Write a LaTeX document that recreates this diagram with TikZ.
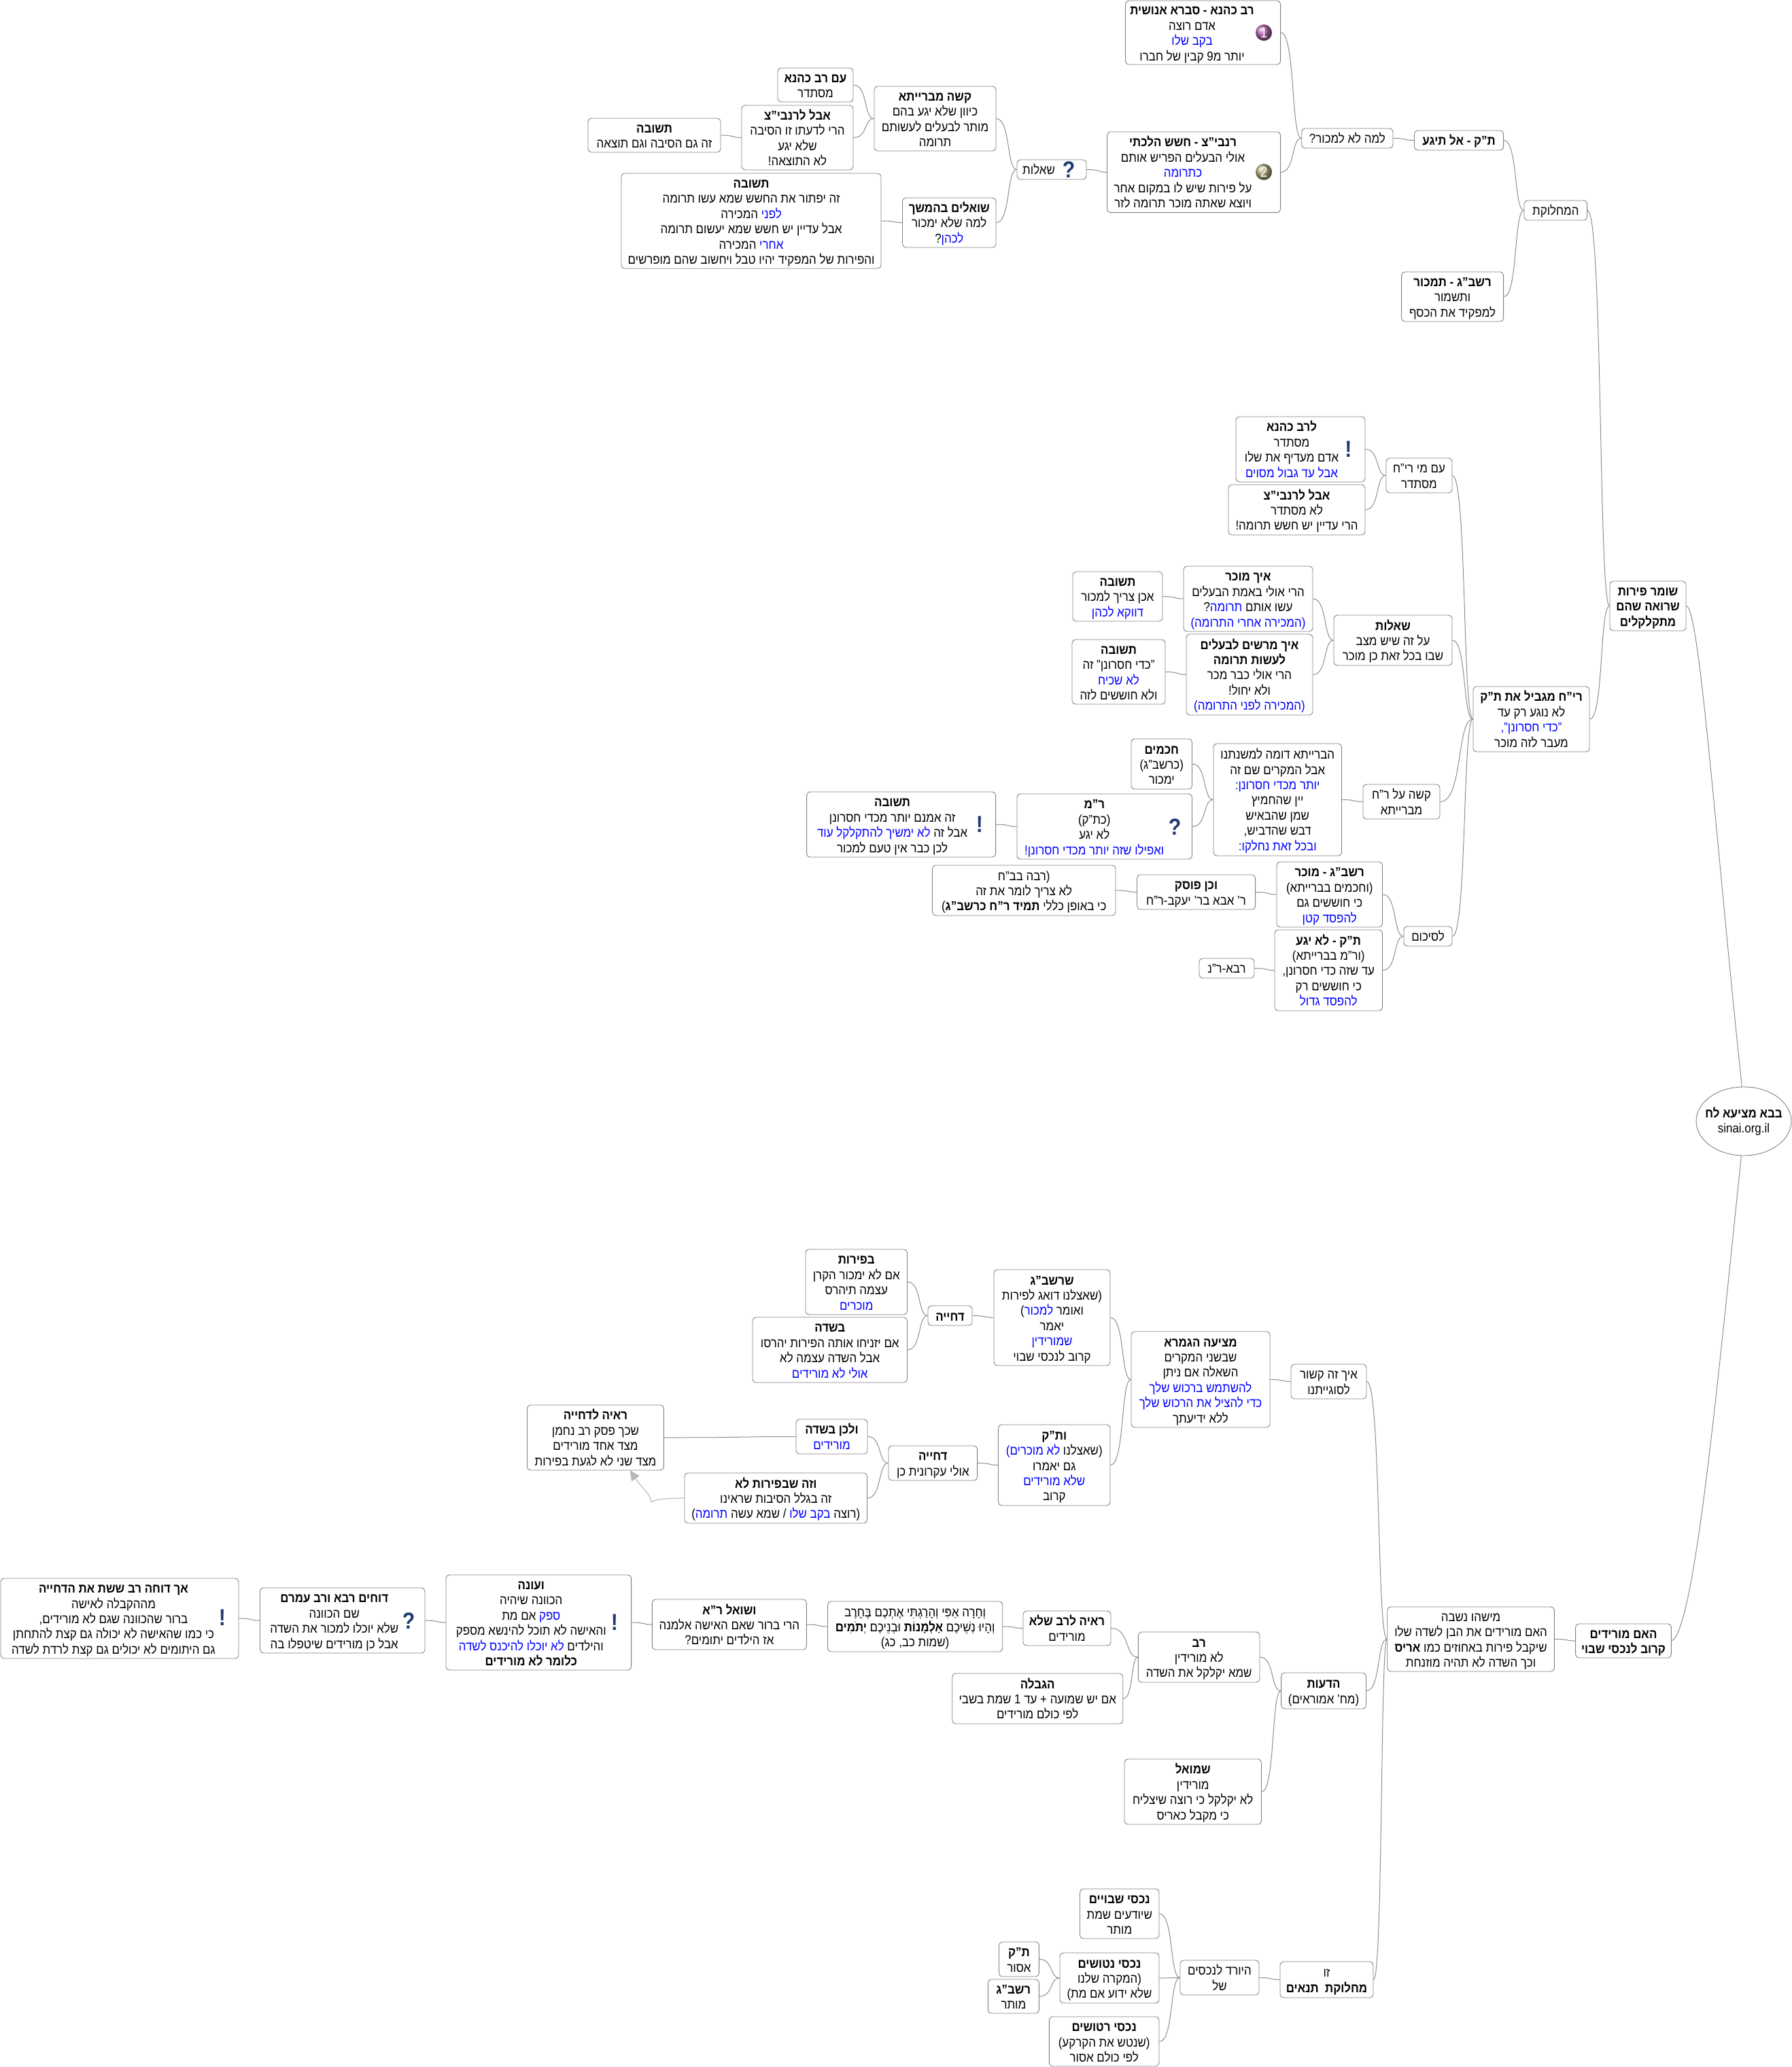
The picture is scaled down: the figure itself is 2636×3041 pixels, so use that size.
\documentclass[tikz,border=0pt]{standalone}
\usepackage{fontspec}
\setmainfont{Liberation Sans}[Script=Hebrew,FakeStretch=0.89]
\usetikzlibrary{calc,shapes.geometric,arrows.meta}
\TeXXeTstate=1
\definecolor{linkgrey}{HTML}{8C8C8C}
\definecolor{boxgrey}{HTML}{808080}
\definecolor{iconblue}{HTML}{1F3A6E}
\definecolor{ballpurple}{HTML}{B564AD}
\definecolor{ballolive}{HTML}{B3AE80}
\newcommand\rl[1]{\beginR #1\endR}
\newcommand\bd[1]{{\bfseries #1}}
\newcommand\bl[1]{{\color{blue}\beginR #1\endR}}
\tikzset{
  box/.style={draw=boxgrey,line width=0.9pt,rounded corners=5pt,inner sep=0pt,fill=white,
    font=\fontsize{19}{22.4}\selectfont},
  linkc/.style={draw=linkgrey,line width=1pt},
  markicon/.style={inner sep=0pt,text=iconblue,font=\fontsize{34}{34}\selectfont\bfseries},
  ballicon/.style={circle,minimum size=24pt,inner sep=0pt,text=white,font=\fontsize{21}{21}\selectfont}
}
\newcommand\bx[7][0]{%
  \pgfmathsetmacro\bw{#5-#3}\pgfmathsetmacro\bh{#6-#4}%
  \pgfmathsetmacro\cx{(#5+#3)/2}\pgfmathsetmacro\cy{(#6+#4)/2}%
  \node[box,minimum width=\bw pt,minimum height=\bh pt] (#2) at (\cx,\cy)
    {\raisebox{-3pt}[\height][\depth]{\begin{tabular}{@{}c@{\hspace{#1pt}}}#7\end{tabular}}};}
\newcommand\lk[2]{\draw[linkc] let \p1=(#1.east),\p2=(#2.west) in
  (\p1) .. controls ({\x1+0.7*(\x2-\x1)},\y1) and ({\x1+0.5*(\x2-\x1)},\y2) .. (\p2);}
\begin{document}
\begin{tikzpicture}[x=1pt,y=-1pt]
\useasboundingbox (0,0) rectangle (2636,3041);
% top branch
\bx[32]{aone}{1655.5}{1}{1883.6}{95}{\rl{\bd{רב כהנא - סברא אנושית}}\\\rl{אדם רוצה}\\\bl{בקב שלו}\\\rl{יותר מ9 קבין של חברו}}
\bx[32]{atwo}{1628.5}{194}{1883.6}{312.6}{\rl{\bd{רנבי"צ - חשש הלכתי}}\\\rl{אולי הבעלים הפריש אותם}\\\bl{כתרומה}\\\rl{על פירות שיש לו במקום אחר}\\\rl{ויוצא שאתה מוכר תרומה לזר}}
\node[ballicon,ball color=ballpurple] (ballone) at (1859,48) {1};
\node[ballicon,ball color=ballolive] (balltwo) at (1859,253) {2};
\bx{lama}{1914.7}{189}{2049}{218}{\rl{למה לא למכור?}}
\bx{tk}{2080.5}{192}{2211.6}{221}{\rl{\bd{ת"ק - אל תיגע}}}
\bx{mach}{2242}{295}{2334.6}{324}{\rl{המחלוקת}}
\bx{rshbg}{2061.6}{400}{2211.6}{473}{\rl{\bd{רשב"ג - תמכור}}\\\rl{ותשמור}\\\rl{למפקיד את הכסף}}
\bx[38]{shq}{1496}{235}{1598}{264}{\rl{שאלות}}
\node[markicon] (qone) at (1572,250) {?};
\bx{kashe}{1286}{127}{1465}{222}{\rl{\bd{קשה מברייתא}}\\\rl{כיוון שלא יגע בהם}\\\rl{מותר לבעלים לעשותם}\\\rl{תרומה}}
\bx{imrav}{1144}{100}{1255}{150}{\rl{\bd{עם רב כהנא}}\\\rl{מסתדר}}
\bx{avalr}{1091}{155}{1255}{250}{\rl{\bd{אבל לרנבי"צ}}\\\rl{הרי לדעתו זו הסיבה}\\\rl{שלא יגע}\\\rl{לא התוצאה!}}
\bx{tshone}{865}{174}{1060}{224}{\rl{\bd{תשובה}}\\\rl{זה גם הסיבה וגם תוצאה}}
\bx{tshtwo}{914}{255}{1296}{395}{\rl{\bd{תשובה}}\\\rl{זה יפתור את החשש שמא עשו תרומה}\\\rl{המכירה} \bl{לפני}\\\rl{אבל עדיין יש חשש שמא יעשום תרומה}\\\rl{המכירה} \bl{אחרי}\\\rl{והפירות של המפקיד יהיו טבל ויחשוב שהם מופרשים}}
\bx{shoal}{1327.5}{291}{1465}{364}{\rl{\bd{שואלים בהמשך}}\\\rl{למה שלא ימכור}\\\rl{?}\bl{לכהן}}
% ri'h branch
\bx[26]{lerav}{1818}{613}{2008}{709}{\rl{\bd{לרב כהנא}}\\\rl{מסתדר}\\\rl{אדם מעדיף את שלו}\\\bl{אבל עד גבול מסוים}}
\node[markicon] (exone) at (1983.5,661) {!};
\bx{avalrb}{1807}{713}{2008}{787}{\rl{\bd{אבל לרנבי"צ}}\\\rl{לא מסתדר}\\\rl{הרי עדיין יש חשש תרומה!}}
\bx{immi}{2039}{674}{2136}{725}{\rl{עם מי רי"ח}\\\rl{מסתדר}}
\bx{eichone}{1741}{833}{1931}{929}{\rl{\bd{איך מוכר}}\\\rl{הרי אולי באמת הבעלים}\\\rl{?}\bl{תרומה} \rl{עשו אותם}\\\bl{(המכירה אחרי התרומה)}}
\bx{tshthree}{1578}{841}{1710}{914}{\rl{\bd{תשובה}}\\\rl{אכן צריך למכור}\\\bl{דווקא לכהן}}
\bx{eichtwo}{1745}{933}{1931}{1052}{\rl{\bd{איך מרשים לבעלים}}\\\rl{\bd{לעשות תרומה}}\\\rl{הרי אולי כבר מכר}\\\rl{ולא יחול!}\\\bl{(המכירה לפני התרומה)}}
\bx{tshfour}{1577}{941}{1714}{1036}{\rl{\bd{תשובה}}\\\rl{"כדי חסרונן" זה}\\\bl{לא שכיח}\\\rl{ולא חוששים לזה}}
\bx{shb}{1962}{905}{2136}{979}{\rl{\bd{שאלות}}\\\rl{על זה שיש מצב}\\\rl{שבו בכל זאת כן מוכר}}
\bx{rich}{2167}{1010}{2338}{1106}{\rl{\bd{רי"ח מגביל את ת"ק}}\\\rl{לא נוגע רק עד}\\\bl{"כדי חסרונן",}\\\rl{מעבר לזה מוכר}}
\bx{shomer}{2368}{855}{2480}{928}{\rl{\bd{שומר פירות}}\\\rl{\bd{שרואה שהם}}\\\rl{\bd{מתקלקלים}}}
\bx{chach}{1664}{1087}{1753.5}{1161}{\rl{\bd{חכמים}}\\\rl{(כרשב"ג)}\\\rl{ימכור}}
\bx{hab}{1785}{1094}{1973.5}{1259}{\rl{הברייתא דומה למשנתנו}\\\rl{אבל המקרים שם זה}\\\bl{יותר מכדי חסרונן:}\\\rl{יין שהחמיץ}\\\rl{שמן שהבאיש}\\\rl{דבש שהדביש,}\\\bl{ובכל זאת נחלקו:}}
\bx{kashal}{2005}{1154}{2118}{1205}{\rl{קשה על ר"ח}\\\rl{מברייתא}}
\bx[30]{rm}{1496}{1168}{1753.5}{1264}{\rl{\bd{ר"מ}}\\\rl{(כת"ק)}\\\rl{לא יגע}\\\bl{ואפילו שזה יותר מכדי חסרונן!}}
\node[markicon] (qtwo) at (1728,1217) {?};
\bx[26]{tshfive}{1186.6}{1165}{1464.6}{1261}{\rl{\bd{תשובה}}\\\rl{זה אמנם יותר מכדי חסרונן}\\\bl{לא ימשיך להתקלקל עוד} \rl{אבל זה}\\\rl{לכן כבר אין טעם למכור}}
\node[markicon] (extwo) at (1441,1213) {!};
\bx{raba}{1371.5}{1273}{1641}{1347}{\rl{(רבה בב"ח}\\\rl{לא צריך לומר את זה}\\\rl{כי באופן כללי \bd{תמיד ר"ח כרשב"ג})}}
\bx{vechen}{1672.5}{1287}{1846.6}{1338}{\rl{\bd{וכן פוסק}}\\\rl{ר' אבא בר' יעקב-ר"ח}}
\bx{rshbgb}{1878}{1268}{2033.5}{1364}{\rl{\bd{רשב"ג - מוכר}}\\\rl{(וחכמים בברייתא)}\\\rl{כי חוששים גם}\\\bl{להפסד קטן}}
\bx{tkb}{1875}{1368}{2033.5}{1487}{\rl{\bd{ת"ק - לא יגע}}\\\rl{(ור"מ בברייתא)}\\\rl{עד שזה כדי חסרונן,}\\\rl{כי חוששים רק}\\\bl{להפסד גדול}}
\bx{rava}{1764}{1410}{1845}{1439}{\rl{רבא-ר"נ}}
\bx{lesikum}{2065}{1363}{2136}{1392}{\rl{לסיכום}}
% root
\node[ellipse,draw=boxgrey,line width=0.9pt,minimum width=140pt,minimum height=101pt,inner xsep=-12pt,inner ysep=0pt,
  font=\fontsize{19}{22.4}\selectfont,align=center] (root) at (2565,1649.5)
  {\rl{\bd{בבא מציעא לח}}\\sinai.org.il};
% lower branch
\bx{bp}{1185}{1838}{1334.5}{1934}{\rl{\bd{בפירות}}\\\rl{אם לא ימכור הקרן}\\\rl{עצמה תיהרס}\\\bl{מוכרים}}
\bx{bs}{1107}{1938}{1334.5}{2034}{\rl{\bd{בשדה}}\\\rl{אם יזניחו אותה הפירות יהרסו}\\\rl{אבל השדה עצמה לא}\\\bl{אולי לא מורידים}}
\bx{dchone}{1365}{1921}{1430}{1950}{\rl{\bd{דחייה}}}
\bx{shrshbg}{1462}{1868}{1633}{2009}{\rl{\bd{שרשב"ג}}\\\rl{(שאצלנו דואג לפירות}\\\rl{)}\bl{למכור} \rl{ואומר}\\\rl{יאמר}\\\bl{שמורידין}\\\rl{קרוב לנכסי שבוי}}
\bx{metsia}{1664}{1959}{1868}{2100}{\rl{\bd{מציעה הגמרא}}\\\rl{שבשני המקרים}\\\rl{השאלה אם ניתן}\\\bl{להשתמש ברכוש שלך}\\\bl{כדי להציל את הרכוש שלך}\\\rl{ללא ידיעתך}}
\bx{eichz}{1899}{2007}{2010}{2058}{\rl{איך זה קשור}\\\rl{לסוגייתנו}}
\bx{velachen}{1171}{2088}{1276}{2139}{\rl{\bd{ולכן בשדה}}\\\bl{מורידים}}
\bx{dchtwo}{1307}{2127}{1437.6}{2178}{\rl{\bd{דחייה}}\\\rl{אולי עקרונית כן}}
\bx{vetk}{1468.5}{2096}{1633}{2215}{\rl{\bd{ות"ק}}\\\bl{לא מוכרים)} \rl{(שאצלנו}\\\rl{גם יאמרו}\\\bl{שלא מורידים}\\\rl{קרוב}}
\bx{reaya}{775.5}{2067}{976.4}{2163}{\rl{\bd{ראיה לדחייה}}\\\rl{שכך פסק רב נחמן}\\\rl{מצד אחד מורידים}\\\rl{מצד שני לא לגעת בפירות}}
\bx{vezeh}{1007}{2167}{1275.5}{2241}{\rl{\bd{וזה שבפירות לא}}\\\rl{זה בגלל הסיבות שראינו}\\\rl{)}\bl{תרומה} \rl{/ שמא עשה} \bl{בקב שלו} \rl{(רוצה}}
\bx[18]{ach}{1}{2322}{351}{2440}{\rl{\bd{אך דוחה רב ששת את הדחייה}}\\\rl{מההקבלה לאישה}\\\rl{ברור שהכוונה שגם לא מורידים,}\\\rl{כי כמו שהאישה לא יכולה גם קצת להתחתן}\\\rl{גם היתומים לא יכולים גם קצת לרדת לשדה}}
\node[markicon] (exthree) at (327,2380) {!};
\bx[24]{dochim}{382.5}{2336}{625}{2432}{\rl{\bd{דוחים רבא ורב עמרם}}\\\rl{שם הכוונה}\\\rl{שלא יוכלו למכור את השדה}\\\rl{אבל כן מורידים שיטפלו בה}}
\node[markicon] (qthree) at (601,2385) {?};
\bx[22]{veone}{656}{2317}{928.6}{2457}{\rl{\bd{ועונה}}\\\rl{הכוונה שיהיה}\\\rl{אם מת} \bl{ספק}\\\rl{והאישה לא תוכל להינשא מספק}\\\bl{לא יוכלו להיכנס לשדה} \rl{והילדים}\\\rl{\bd{כלומר לא מורידים}}}
\node[markicon] (exfour) at (904,2387) {!};
\bx{vesho}{959.4}{2353}{1186.4}{2427}{\rl{\bd{ושואל ר"א}}\\\rl{הרי ברור שאם האישה אלמנה}\\\rl{אז הילדים יתומים?}}
\bx{vechara}{1217.5}{2356}{1474.7}{2430}{\rl{וְחָרָה אַפִּי וְהָרַגְתִּי אֶתְכֶם בֶּחָרֶב}\\\rl{וְהָיוּ נְשֵׁיכֶם \bd{אַלְמָנוֹת} וּבְנֵיכֶם \bd{יְתֹמִים}}\\\rl{(שמות כב, כג)}}
\bx{reayarav}{1505}{2370}{1634}{2421}{\rl{\bd{ראיה לרב שלא}}\\\rl{מורידים}}
\bx{hag}{1400.7}{2462}{1651.7}{2536}{\rl{\bd{הגבלה}}\\\rl{אם יש שמועה + עד 1 שמת בשבי}\\\rl{לפי כולם מורידים}}
\bx{rav}{1674.4}{2401}{1853}{2475}{\rl{\bd{רב}}\\\rl{לא מורידין}\\\rl{שמא יקלקל את השדה}}
\bx{deot}{1884.6}{2461}{2009.5}{2514}{\rl{\bd{הדעות}}\\\rl{(מח' אמוראים)}}
\bx{shm}{1654}{2588}{1855.5}{2684}{\rl{\bd{שמואל}}\\\rl{מורידין}\\\rl{לא יקלקל כי רוצה שיצליח}\\\rl{כי מקבל כאריס}}
\bx{mishe}{2040.7}{2364}{2286.4}{2459}{\rl{מישהו נשבה}\\\rl{האם מורידים את הבן לשדה שלו}\\\rl{שיקבל פירות באחוזים כמו \bd{אריס}}\\\rl{וכך השדה לא תהיה מוזנחת}}
\bx{haim}{2317.6}{2389}{2458.4}{2439}{\rl{\bd{האם מורידים}}\\\rl{\bd{קרוב לנכסי שבוי}}}
\bx{ns}{1588.5}{2779}{1705}{2852}{\rl{\bd{נכסי שבויים}}\\\rl{שיודעים שמת}\\\rl{מותר}}
\bx{tkc}{1469.5}{2857}{1528.4}{2908}{\rl{\bd{ת"ק}}\\\rl{אסור}}
\bx{rsc}{1453.3}{2912}{1528.4}{2962}{\rl{\bd{רשב"ג}}\\\rl{מותר}}
\bx{nn}{1559}{2873}{1705}{2947}{\rl{\bd{נכסי נטושים}}\\\rl{(המקרה שלנו}\\\rl{שלא ידוע אם מת)}}
\bx{nr}{1543.4}{2967}{1705}{3040}{\rl{\bd{נכסי רטושים}}\\\rl{(שנטש את הקרקע)}\\\rl{לפי כולם אסור}}
\bx{yored}{1736}{2884}{1852}{2935}{\rl{היורד לנכסים}\\\rl{של}}
\bx{zu}{1883}{2886}{2020}{2939}{\rl{זו}\\\rl{\bd{מחלוקת~~תנאים}}}
% connectors
\lk{aone}{lama}\lk{atwo}{lama}\lk{lama}{tk}\lk{tk}{mach}\lk{rshbg}{mach}\lk{mach}{shomer}
\lk{shq}{atwo}\lk{kashe}{shq}\lk{shoal}{shq}\lk{imrav}{kashe}\lk{avalr}{kashe}\lk{tshone}{avalr}\lk{tshtwo}{shoal}
\lk{lerav}{immi}\lk{avalrb}{immi}\lk{immi}{rich}\lk{tshthree}{eichone}\lk{eichone}{shb}\lk{tshfour}{eichtwo}\lk{eichtwo}{shb}\lk{shb}{rich}
\lk{rich}{shomer}\lk{kashal}{rich}\lk{hab}{kashal}\lk{chach}{hab}\lk{rm}{hab}\lk{tshfive}{rm}\lk{lesikum}{rich}
\lk{rshbgb}{lesikum}\lk{tkb}{lesikum}\lk{vechen}{rshbgb}\lk{raba}{vechen}\lk{rava}{tkb}
\lk{mishe}{haim}\lk{eichz}{mishe}\lk{deot}{mishe}\lk{zu}{mishe}\lk{metsia}{eichz}\lk{shrshbg}{metsia}\lk{vetk}{metsia}
\lk{dchone}{shrshbg}\lk{bp}{dchone}\lk{bs}{dchone}\lk{dchtwo}{vetk}\lk{velachen}{dchtwo}\lk{vezeh}{dchtwo}\lk{reaya}{velachen}
\lk{rav}{deot}\lk{shm}{deot}\lk{reayarav}{rav}\lk{hag}{rav}\lk{vechara}{reayarav}\lk{vesho}{vechara}\lk{veone}{vesho}\lk{dochim}{veone}\lk{ach}{dochim}
\lk{yored}{zu}\lk{ns}{yored}\lk{nn}{yored}\lk{nr}{yored}\lk{tkc}{nn}\lk{rsc}{nn}
\draw[linkc] (shomer.east) .. controls (2500,891) and (2525,1250) .. (root.93);
\draw[linkc] (haim.east) .. controls (2492,2400) and (2525,2050) .. (root.-94);
\coordinate (arrowbend) at (958,2210);
\coordinate (arrowend) at (926.5,2163);
\draw[draw=black!28,line width=1.1pt] (vezeh.west) .. controls (985,2204) and (965,2205) .. (arrowbend);
\draw[draw=black!28,line width=1.1pt,-{Triangle[length=15pt,width=14pt,fill=black!28]}] (arrowbend) .. controls (957,2198) and (945,2190) .. (arrowend);
\end{tikzpicture}
\end{document}
